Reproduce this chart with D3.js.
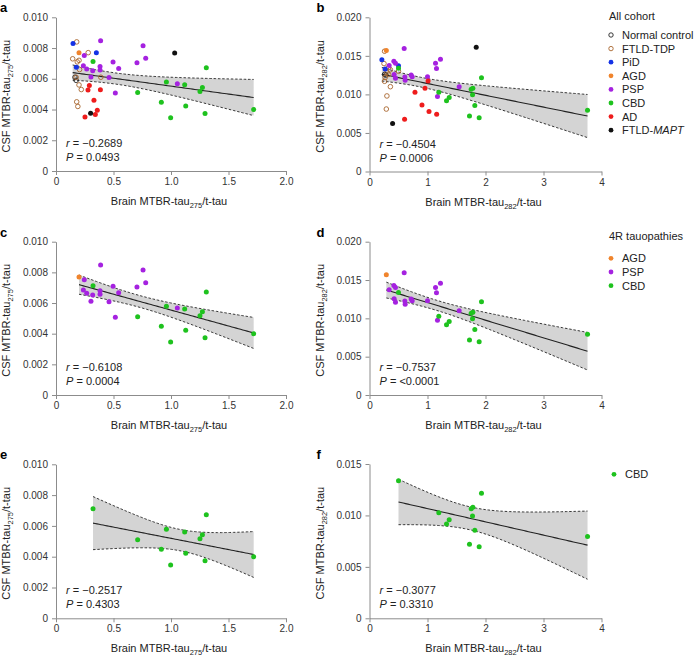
<!DOCTYPE html>
<html>
  <head>
    <meta charset="utf-8">
    <title>CSF vs brain MTBR-tau</title>
    <script type="text/javascript" src="https://d3js.org/d3.v7.min.js"></script>
    <style type="text/css">
      body { margin: 0; background: #fff; }
      svg { font-family: "Liberation Sans", Arial, sans-serif; }
    </style>
  </head>
  <body>
    <script type="text/javascript">

      //Width and height
      var w = 698;
      var h = 657;

      //Groups (legend order)
      var groupNames = ["Normal control", "FTLD-TDP", "PiD", "AGD", "PSP", "CBD", "AD", "FTLD-MAPT"];
      var groupColors = ["#222222", "#a8652e", "#1432e6", "#f0842c", "#a522e0", "#1ec21e", "#ee1c1c", "#111111"];
      var groupOpen = [true, true, false, false, false, false, false, false];

      //Brain MTBR-tau275/t-tau vs CSF MTBR-tau275/t-tau
      var nc275 = [[0.165, 0.0061], [0.175, 0.0059]];
      var tdp275 = [[0.18, 0.0084], [0.145, 0.0073], [0.185, 0.0071], [0.20, 0.0072], [0.205, 0.0066], [0.28, 0.0077],
                    [0.39, 0.0061], [0.20, 0.0056], [0.22, 0.0053], [0.18, 0.0045], [0.19, 0.0042], [0.175, 0.0061]];
      var pid275 = [[0.148, 0.0083], [0.351, 0.0077], [0.177, 0.00675]];
      var agd275 = [[0.20, 0.0077]];
      var psp275 = [[0.246, 0.00752], [0.388, 0.00848], [0.238, 0.00685], [0.267, 0.00663], [0.319, 0.00652], [0.304, 0.00611],
                    [0.383, 0.0068], [0.383, 0.00657], [0.496, 0.00709], [0.545, 0.00667], [0.461, 0.00609], [0.516, 0.00507],
                    [0.757, 0.00815], [0.78, 0.00733], [0.704, 0.00704], [1.055, 0.00567]];
      var cbd275 = [[0.322, 0.00712], [0.71, 0.0051], [0.96, 0.00579], [1.119, 0.00561], [0.916, 0.00448], [0.997, 0.00346],
                    [1.128, 0.00423], [1.252, 0.00517], [1.273, 0.00543], [1.307, 0.00672], [1.296, 0.00374], [1.719, 0.0040]];
      var ad275 = [[0.29, 0.00557], [0.278, 0.00527], [0.386, 0.00529], [0.33, 0.0046], [0.359, 0.00395], [0.342, 0.00367], [0.252, 0.00351]];
      var mapt275 = [[1.032, 0.00768], [0.301, 0.00375]];

      //Brain MTBR-tau282/t-tau vs CSF MTBR-tau282/t-tau
      var nc282 = [[0.26, 0.0126], [0.28, 0.0125]];
      var tdp282 = [[0.26, 0.0156], [0.25, 0.0140], [0.33, 0.0135], [0.36, 0.0132], [0.30, 0.0128], [0.50, 0.0130],
                    [0.26, 0.0117], [0.36, 0.0110], [0.30, 0.0098], [0.29, 0.0081], [0.27, 0.0122], [0.33, 0.0126]];
      var pid282 = [[0.213, 0.0145], [0.27, 0.0133], [0.50, 0.0137]];
      var agd282 = [[0.29, 0.0157]];
      var psp282 = [[0.598, 0.01596], [0.339, 0.01374], [0.42, 0.0143], [0.448, 0.01404], [0.425, 0.01257], [0.448, 0.01209],
                    [0.609, 0.01226], [0.615, 0.01183], [0.718, 0.01252], [0.736, 0.0123], [1.0, 0.0123], [1.138, 0.01404],
                    [1.155, 0.01335], [1.224, 0.01457], [1.172, 0.00974], [1.546, 0.011]];
      var cbd282 = [[0.5, 0.01338], [1.195, 0.01027], [1.328, 0.00917], [1.374, 0.00959], [1.931, 0.01215], [1.753, 0.01066],
                    [1.782, 0.01079], [1.776, 0.00995], [1.816, 0.00855], [1.724, 0.00719], [1.891, 0.00696], [3.759, 0.00794]];
      var ad282 = [[1.01, 0.01175], [0.957, 0.0108], [0.784, 0.01028], [0.905, 0.00864], [1.026, 0.00778], [1.158, 0.00743], [0.605, 0.00678]];
      var mapt282 = [[1.84, 0.0161], [0.398, 0.00622]];

      var all275 = [nc275, tdp275, pid275, agd275, psp275, cbd275, ad275, mapt275];
      var all282 = [nc282, tdp282, pid282, agd282, psp282, cbd282, ad282, mapt282];

      //Stats printed in each panel
      var panelLetters = ["a", "b", "c", "d", "e", "f"];
      var rText = ["\u22120.2689", "\u22120.4504", "\u22120.6108", "\u22120.7537", "\u22120.2517", "\u22120.3077"];
      var pText = ["0.0493", "0.0006", "0.0004", "<0.0001", "0.4303", "0.3310"];

      //Tick values
      var xTicks275 = [0, 0.5, 1, 1.5, 2];
      var xTicks282 = [0, 1, 2, 3, 4];
      var yTicks275 = [0, 0.002, 0.004, 0.006, 0.008, 0.010];
      var yTicks282 = [0, 0.005, 0.010, 0.015, 0.020];
      var yTicksF = [0, 0.005, 0.010, 0.015];

      //Create SVG element
      var svg = d3.select("body")
            .append("svg")
            .attr("width", w)
            .attr("height", h);

      var fmt275x = function(d) { return d === 0 ? "0" : d3.format(".1f")(d); };
      var fmt282x = d3.format("d");
      var fmtY = function(d) { return d === 0 ? "0" : d3.format(".3f")(d); };

      //t quantile (0.975) by Cornish-Fisher expansion
      function tCrit(v) {
        var z = 1.959964;
        return z + (z*z*z + z) / (4*v) + (5*Math.pow(z,5) + 16*z*z*z + 3*z) / (96*v*v)
               + (3*Math.pow(z,7) + 19*Math.pow(z,5) + 17*z*z*z - 15*z) / (384*v*v*v);
      }

      //Least squares fit with 95% confidence band of the mean
      function regress(pts) {
        var n = pts.length;
        var mx = d3.mean(pts, function(d) { return d[0]; });
        var my = d3.mean(pts, function(d) { return d[1]; });
        var sxx = d3.sum(pts, function(d) { return (d[0]-mx)*(d[0]-mx); });
        var sxy = d3.sum(pts, function(d) { return (d[0]-mx)*(d[1]-my); });
        var b = sxy / sxx, a = my - b*mx;
        var sse = d3.sum(pts, function(d) { var e = d[1] - (a + b*d[0]); return e*e; });
        var s = Math.sqrt(sse / (n - 2));
        var t = tCrit(n - 2);
        var ext = d3.extent(pts, function(d) { return d[0]; });
        var xs = d3.range(0, 81).map(function(i) { return ext[0] + (ext[1]-ext[0]) * i / 80; });
        return xs.map(function(xv) {
          var yh = a + b*xv;
          var se = s * Math.sqrt(1/n + (xv-mx)*(xv-mx)/sxx);
          return {x: xv, y: yh, lo: yh - t*se, hi: yh + t*se};
        });
      }

      function subLabel(sel, pre, sub, post) {
        sel.append("tspan").text(pre);
        sel.append("tspan").attr("font-size", "0.68em").attr("dy", 3).text(sub);
        sel.append("tspan").attr("dy", -3).text(post);
      }

      function panel(i, groups, idx, xr, yr, xDom, yDom, xt, yt, fx, sub) {
        var x = d3.scaleLinear().domain(xDom).range(xr);
        var y = d3.scaleLinear().domain(yDom).range(yr);
        var g = svg.append("g");

        //axes
        var ax = g.append("g")
          .attr("transform", "translate(0," + yr[0] + ")")
          .call(d3.axisBottom(x).tickValues(xt).tickFormat(fx).tickSize(4).tickSizeOuter(0).tickPadding(3));
        var ay = g.append("g")
          .attr("transform", "translate(" + xr[0] + ",0)")
          .call(d3.axisLeft(y).tickValues(yt).tickFormat(fmtY).tickSize(4).tickSizeOuter(0).tickPadding(4));
        [ax, ay].forEach(function(a) {
          a.attr("font-size", 10).attr("font-family", null);
          a.selectAll(".domain, .tick line").attr("stroke", "#8c8c8c");
          a.selectAll("text").attr("fill", "#333");
        });

        //axis titles
        var xl = g.append("text")
          .attr("x", (xr[0] + xr[1]) / 2 - 2).attr("y", yr[0] + 34)
          .attr("text-anchor", "middle").attr("font-size", 11).attr("fill", "#222");
        subLabel(xl, "Brain MTBR-tau", sub, "/t-tau");
        var yl = g.append("text")
          .attr("transform", "translate(" + (xr[0] - 46) + "," + ((yr[0] + yr[1]) / 2 + 2) + ") rotate(-90)")
          .attr("text-anchor", "middle").attr("font-size", 11).attr("fill", "#222");
        subLabel(yl, "CSF MTBR-tau", sub, "/t-tau");

        //panel letter
        g.append("text")
          .attr("x", xr[0] - (i % 2 ? 53 : 56)).attr("y", yr[1] - 5)
          .attr("font-size", 13).attr("font-weight", "bold").attr("fill", "#000")
          .text(panelLetters[i]);

        //regression band and line
        var pts = [];
        idx.forEach(function(k) { pts = pts.concat(groups[k]); });
        var fit = regress(pts);
        g.append("path").datum(fit)
          .attr("fill", "#d4d4d4")
          .attr("d", d3.area().x(function(d) { return x(d.x); }).y0(function(d) { return y(d.lo); }).y1(function(d) { return y(d.hi); }));
        ["lo", "hi"].forEach(function(k) {
          g.append("path").datum(fit)
            .attr("fill", "none").attr("stroke", "#222").attr("stroke-width", 0.9).attr("stroke-dasharray", "2.5,1.8")
            .attr("d", d3.line().x(function(d) { return x(d.x); }).y(function(d) { return y(d[k]); }));
        });
        g.append("path").datum(fit)
          .attr("fill", "none").attr("stroke", "#222").attr("stroke-width", 1.1)
          .attr("d", d3.line().x(function(d) { return x(d.x); }).y(function(d) { return y(d.y); }));

        //points
        idx.forEach(function(k) {
          g.append("g").selectAll("circle")
            .data(groups[k])
            .enter()
            .append("circle")
            .attr("cx", function(d) { return x(d[0]); })
            .attr("cy", function(d) { return y(d[1]); })
            .attr("r", groupOpen[k] ? 2.3 : 2.5)
            .attr("fill", groupOpen[k] ? "none" : groupColors[k])
            .attr("stroke", groupOpen[k] ? groupColors[k] : "none")
            .attr("stroke-width", 0.9);
        });

        //stats
        var rt = g.append("text").attr("x", xr[0] + 10).attr("y", yr[0] - 24).attr("font-size", 11).attr("fill", "#222");
        rt.append("tspan").attr("font-style", "italic").text("r");
        rt.append("tspan").text((i === 4 ? "  = " : " = ") + rText[i]);
        var pt = g.append("text").attr("x", xr[0] + 10).attr("y", yr[0] - 10).attr("font-size", 11).attr("fill", "#222");
        pt.append("tspan").attr("font-style", "italic").text("P");
        pt.append("tspan").text(" = " + pText[i]);
      }

      var allIdx = [0, 1, 2, 3, 4, 5, 6, 7];
      var fourR = [3, 4, 5];
      panel(0, all275, allIdx, [56, 286], [171, 17.3], [0, 2], [0, 0.010], xTicks275, yTicks275, fmt275x, "275");
      panel(1, all282, allIdx, [369.5, 601.5], [171.5, 17.3], [0, 4], [0, 0.020], xTicks282, yTicks282, fmt282x, "282");
      panel(2, all275, fourR, [56, 286], [395, 241.7], [0, 2], [0, 0.010], xTicks275, yTicks275, fmt275x, "275");
      panel(3, all282, fourR, [369.5, 601.5], [395, 241.7], [0, 4], [0, 0.020], xTicks282, yTicks282, fmt282x, "282");
      panel(4, all275, [5], [56, 286], [618.3, 464.3], [0, 2], [0, 0.010], xTicks275, yTicks275, fmt275x, "275");
      panel(5, all282, [5], [369.5, 601.5], [618.3, 464], [0, 4], [0, 0.015], xTicks282, yTicksF, fmt282x, "282");

      //Legends
      function legend(title, idx, x0, yTitle, yFirst, step) {
        var g = svg.append("g").attr("font-size", 11).attr("fill", "#222");
        if (title) g.append("text").attr("x", x0 - 1).attr("y", yTitle).text(title);
        idx.forEach(function(k, j) {
          var cy = yFirst + j * step;
          g.append("circle").attr("cx", x0 + 1).attr("cy", cy)
            .attr("r", groupOpen[k] ? 2.2 : 2.4)
            .attr("fill", groupOpen[k] ? "none" : groupColors[k])
            .attr("stroke", groupOpen[k] ? groupColors[k] : "none")
            .attr("stroke-width", 0.9);
          var t = g.append("text").attr("x", x0 + 12).attr("y", cy + 3.9);
          if (groupNames[k] === "FTLD-MAPT") {
            t.append("tspan").text("FTLD-");
            t.append("tspan").attr("font-style", "italic").text("MAPT");
          } else {
            t.text(groupNames[k]);
          }
        });
      }
      legend("All cohort", allIdx, 610, 19.5, 35, 13.6);
      legend("4R tauopathies", fourR, 610, 239.5, 258.3, 13.7);
      legend(null, [5], 613, 0, 474.3, 14);

    </script>
  </body>
</html>
